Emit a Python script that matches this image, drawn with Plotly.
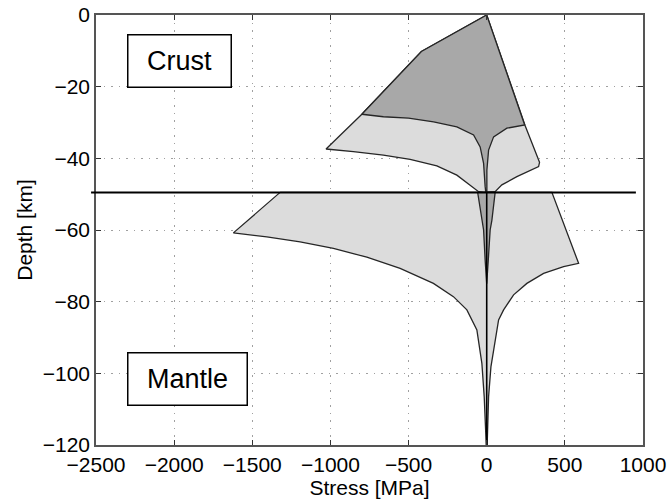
import plotly.graph_objects as go

# crust: outer (light) envelope, traced clockwise from the surface apex
crust_outer_x = [0, -418, -799, -1028, -853, -661, -490, -319, -191, -106, -52, -20, 0,
                 54, 97, 193, 332, 338, 246, 0]
crust_outer_y = [0, -10.2, -27.7, -37.4, -38.1, -39.1, -40.3, -42.1, -44.7, -47.4, -49.3, -49.5, -49.5,
                 -49.3, -47.4, -45.1, -42.3, -41.1, -30.9, 0]

# crust: inner (dark) region
crust_inner_x = [0, -418, -799, -661, -500, -340, -191, -84, -42, -20, -10, -6, 1,
                 1, 12, 44, 129, 243, 0]
crust_inner_y = [0, -10.2, -27.7, -28.4, -28.8, -29.8, -31.2, -33.5, -36.8, -41.4, -47.9, -49.5, -49.5,
                 -43.3, -37.7, -34.0, -31.6, -30.7, 0]

# mantle: outer (light) envelope
mantle_outer_x = [-1322, -1621, -1407, -1194, -981, -767, -554, -341, -213, -127, -63, -31, -16, -8, -3,
                  3, 5, 12, 27, 54, 76, 108, 172, 257, 364, 492, 588, 417, -1322]
mantle_outer_y = [-49.5, -60.8, -61.9, -63.3, -65.1, -67.6, -70.7, -74.9, -78.6, -82.3, -87.9, -97.2, -106.5, -115.8, -120,
                  -120, -115.8, -106.5, -98.2, -90.7, -85.1, -82.3, -78.1, -74.9, -72.1, -70.2, -69.3, -49.5, -49.5]

# mantle: inner (dark) spike
mantle_inner_x = [-58, -31, -20, -10, 0, 10, 22, 33, 54, -58]
mantle_inner_y = [-49.5, -57.3, -60, -68.4, -75, -68.4, -60, -57.3, -49.5, -49.5]

# central zero-stress line in the mantle
axis_line_x = [0, 0]
axis_line_y = [-49.5, -120]

moho_depth = -49.5

light = "#dcdcdc"
dark = "#a8a8a8"
edge = "#262626"
font_family = "Liberation Sans, Arial, sans-serif"

fig = go.Figure()

for xs, ys, fill in [(crust_outer_x, crust_outer_y, light),
                     (crust_inner_x, crust_inner_y, dark),
                     (mantle_outer_x, mantle_outer_y, light),
                     (mantle_inner_x, mantle_inner_y, dark)]:
    fig.add_trace(go.Scatter(
        x=xs, y=ys, mode="lines", fill="toself", fillcolor=fill,
        line=dict(color=edge, width=1.3), showlegend=False, hoverinfo="skip"
    ))

fig.add_trace(go.Scatter(x=axis_line_x, y=axis_line_y, mode="lines",
                         line=dict(color="black", width=1.6), showlegend=False))

# Moho line sticks out a little past the left axis
fig.add_shape(type="line", xref="paper", yref="y", x0=-0.009, x1=0.987,
              y0=moho_depth, y1=moho_depth, line=dict(color="black", width=2))

box_font = dict(family=font_family, size=27, color="black")
fig.add_annotation(x=-1965, y=-12.8, text="Crust", showarrow=False, font=box_font,
                   bgcolor="white", bordercolor="black", borderwidth=1.5, borderpad=0,
                   width=102, height=51)
fig.add_annotation(x=-1913, y=-101.6, text="Mantle", showarrow=False, font=box_font,
                   bgcolor="white", bordercolor="black", borderwidth=1.5, borderpad=0,
                   width=118, height=51)

axis_style = dict(showgrid=True, gridcolor="#a0a0a0", griddash="1.5px,6px", gridwidth=1,
                  showline=True, linecolor="#555555", linewidth=1.5, mirror="allticks",
                  ticks="inside", ticklen=5, tickcolor="#333333", zeroline=False,
                  ticklabeloverflow="allow",
                  tickfont=dict(size=21, color="black"))

fig.update_xaxes(range=[-2500, 1000], dtick=500, tick0=0,
                 title=dict(text="Stress [MPa]", standoff=2, font=dict(size=21)),
                 **axis_style)
fig.update_yaxes(range=[-120, 0], dtick=20, tick0=0,
                 title=dict(text="Depth [km]", standoff=4, font=dict(size=21)),
                 **axis_style)

fig.update_layout(
    width=672, height=501,
    margin=dict(l=96, r=29, t=15, b=56, autoexpand=False),
    plot_bgcolor="white", paper_bgcolor="white",
    font=dict(family=font_family, color="black"),
)

# drop the default 8px page margin so the figure fills the window
fig.write_html("out.html", config={"displayModeBar": False},
               post_script="document.body.style.margin='0px';")
